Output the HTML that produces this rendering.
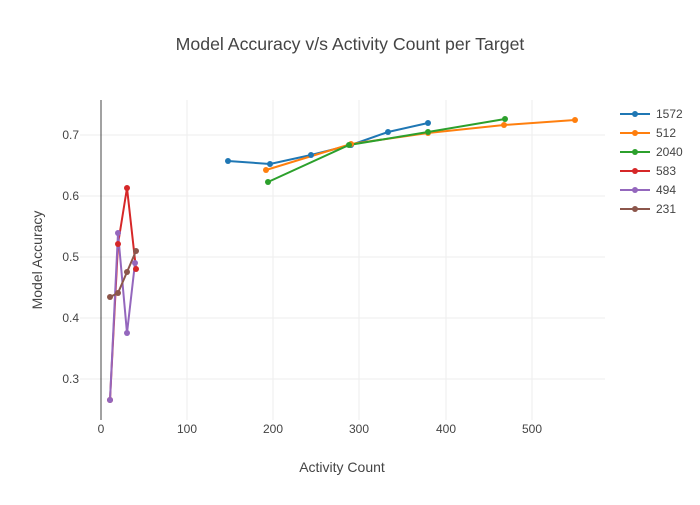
<!DOCTYPE html><html><head><style>body{margin:0;background:#fff}svg{font-family:"Liberation Sans",sans-serif}</style></head><body>
<svg width="700" height="500" xmlns="http://www.w3.org/2000/svg">
<rect width="700" height="500" fill="#fff"/>
<g stroke="#eee" stroke-width="1">
<line x1="187" y1="100" x2="187" y2="420"/><line x1="273" y1="100" x2="273" y2="420"/><line x1="359" y1="100" x2="359" y2="420"/><line x1="446" y1="100" x2="446" y2="420"/><line x1="532" y1="100" x2="532" y2="420"/>
<line x1="80" y1="379" x2="605" y2="379"/><line x1="80" y1="318" x2="605" y2="318"/><line x1="80" y1="257" x2="605" y2="257"/><line x1="80" y1="196" x2="605" y2="196"/><line x1="80" y1="135" x2="605" y2="135"/>
</g>
<line x1="101" y1="100" x2="101" y2="420" stroke="#444" stroke-width="1"/>
<g font-size="12" fill="#444" text-anchor="middle">
<text x="101" y="433">0</text><text x="187" y="433">100</text><text x="273" y="433">200</text><text x="359" y="433">300</text><text x="446" y="433">400</text><text x="532" y="433">500</text>
</g>
<g font-size="12" fill="#444" text-anchor="end">
<text x="79" y="383">0.3</text><text x="79" y="322">0.4</text><text x="79" y="261">0.5</text><text x="79" y="200">0.6</text><text x="79" y="139">0.7</text>
</g>
<text x="350" y="50" font-size="17.7" fill="#444" text-anchor="middle">Model Accuracy v/s Activity Count per Target</text>
<text x="342" y="472" font-size="14" fill="#444" text-anchor="middle">Activity Count</text>
<text transform="translate(42,260) rotate(-90)" font-size="14" fill="#444" text-anchor="middle">Model Accuracy</text>
<g fill="none" stroke-width="2">
<polyline stroke="#1f77b4" points="228,161 270,164 311,155 351,145 388,132 428,123"/>
<polyline stroke="#ff7f0e" points="266,170 351,144 428,133 504,125 575,120"/>
<polyline stroke="#2ca02c" points="268,182 349,145 428,132 505,119"/>
<polyline stroke="#d62728" points="110,400 118,244 127,188 136,269"/>
<polyline stroke="#9467bd" points="110,400 118,233 127,333 135,263"/>
<polyline stroke="#8c564b" points="110,297 118,293 127,272 136,251"/>
</g>
<g fill="#1f77b4"><circle cx="228" cy="161" r="3"/><circle cx="270" cy="164" r="3"/><circle cx="311" cy="155" r="3"/><circle cx="351" cy="145" r="3"/><circle cx="388" cy="132" r="3"/><circle cx="428" cy="123" r="3"/></g>
<g fill="#ff7f0e"><circle cx="266" cy="170" r="3"/><circle cx="351" cy="144" r="3"/><circle cx="428" cy="133" r="3"/><circle cx="504" cy="125" r="3"/><circle cx="575" cy="120" r="3"/></g>
<g fill="#2ca02c"><circle cx="268" cy="182" r="3"/><circle cx="349" cy="145" r="3"/><circle cx="428" cy="132" r="3"/><circle cx="505" cy="119" r="3"/></g>
<g fill="#d62728"><circle cx="110" cy="400" r="3"/><circle cx="118" cy="244" r="3"/><circle cx="127" cy="188" r="3"/><circle cx="136" cy="269" r="3"/></g>
<g fill="#9467bd"><circle cx="110" cy="400" r="3"/><circle cx="118" cy="233" r="3"/><circle cx="127" cy="333" r="3"/><circle cx="135" cy="263" r="3"/></g>
<g fill="#8c564b"><circle cx="110" cy="297" r="3"/><circle cx="118" cy="293" r="3"/><circle cx="127" cy="272" r="3"/><circle cx="136" cy="251" r="3"/></g>
<g font-size="12" fill="#444">
<line x1="620" y1="114" x2="650" y2="114" stroke="#1f77b4" stroke-width="2"/><circle cx="635" cy="114" r="3" fill="#1f77b4"/><text x="656" y="118">1572</text>
<line x1="620" y1="133" x2="650" y2="133" stroke="#ff7f0e" stroke-width="2"/><circle cx="635" cy="133" r="3" fill="#ff7f0e"/><text x="656" y="137">512</text>
<line x1="620" y1="152" x2="650" y2="152" stroke="#2ca02c" stroke-width="2"/><circle cx="635" cy="152" r="3" fill="#2ca02c"/><text x="656" y="156">2040</text>
<line x1="620" y1="171" x2="650" y2="171" stroke="#d62728" stroke-width="2"/><circle cx="635" cy="171" r="3" fill="#d62728"/><text x="656" y="175">583</text>
<line x1="620" y1="190" x2="650" y2="190" stroke="#9467bd" stroke-width="2"/><circle cx="635" cy="190" r="3" fill="#9467bd"/><text x="656" y="194">494</text>
<line x1="620" y1="209" x2="650" y2="209" stroke="#8c564b" stroke-width="2"/><circle cx="635" cy="209" r="3" fill="#8c564b"/><text x="656" y="213">231</text>
</g>
</svg></body></html>
